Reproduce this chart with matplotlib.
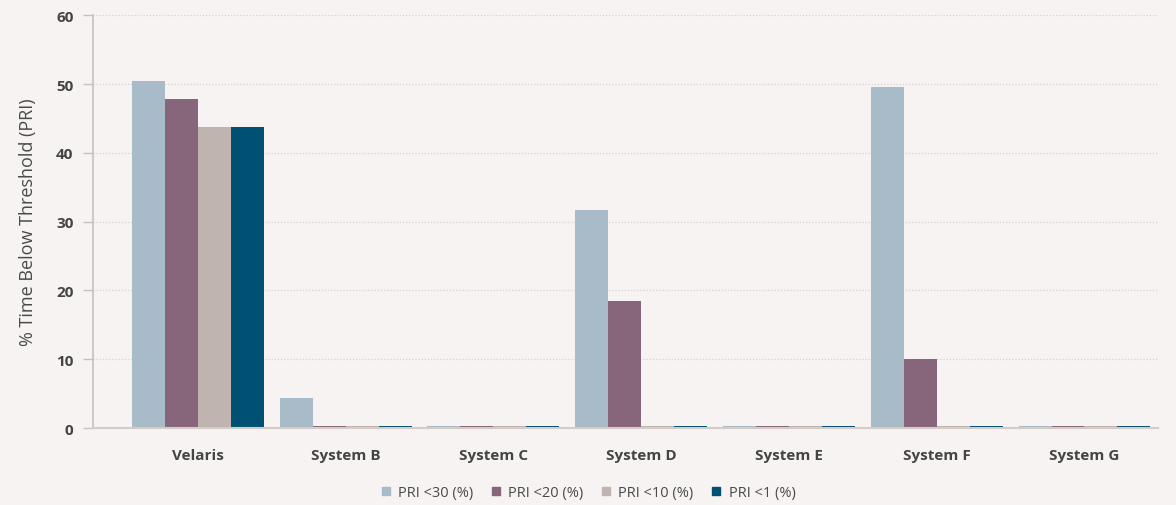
import numpy as np
import matplotlib.pyplot as plt
from matplotlib.lines import Line2D

plt.rcParams["font.family"] = ["Open Sans", "DejaVu Sans"]

BG = "#f7f3f2"
INK = "#444444"

categories = ["Velaris", "System B", "System C", "System D", "System E", "System F", "System G"]
series_names = ["PRI <30 (%)", "PRI <20 (%)", "PRI <10 (%)", "PRI <1 (%)"]
pri30 = [50.5, 4.4, 0.0, 31.7, 0.0, 49.6, 0.0]
pri20 = [47.8, 0.0, 0.0, 18.5, 0.0, 10.1, 0.0]
pri10 = [43.7, 0.0, 0.0, 0.0, 0.0, 0.0, 0.0]
pri1 = [43.7, 0.0, 0.0, 0.0, 0.0, 0.0, 0.0]
colors = ["#a7bbc8", "#87657b", "#bfb4af", "#005073"]

fig = plt.figure(figsize=(11.76, 5.06), dpi=100)
fig.patch.set_facecolor(BG)
ax = fig.add_axes([0.079, 0.152, 0.906, 0.816])
ax.set_facecolor(BG)

x = np.arange(len(categories))
w = 0.223
for i, (vals, c) in enumerate(zip([pri30, pri20, pri10, pri1], colors)):
    # zero values are still drawn as a thin sliver, like the original
    shown = np.maximum(np.array(vals), 0.35)
    ax.bar(x + (i - 1.5) * w, shown, w, color=c, label=series_names[i], zorder=3)

ax.set_ylim(0, 60)
ax.set_xlim(-0.71, 6.5)
ax.set_yticks(range(0, 61, 10))
ax.yaxis.grid(True, linestyle=(0, (1, 1.5)), color="#d8d2d0", lw=0.9, zorder=0)
ax.set_xticks(x)
ax.set_xticklabels(categories, fontsize=11, fontweight="bold", color=INK)
ax.tick_params(axis="y", labelsize=11, labelcolor=INK, length=7, width=1, color="#c9c0bb", pad=7)
for lab in ax.get_yticklabels():
    lab.set_fontweight("bold")
ax.tick_params(axis="x", length=0, pad=14)
for s in ["top", "right"]:
    ax.spines[s].set_visible(False)
ax.spines["left"].set_color("#c9c0bb")
ax.spines["left"].set_linewidth(1.2)
ax.spines["bottom"].set_color("#d6ccc7")
ax.spines["bottom"].set_linewidth(1.5)
ax.spines["bottom"].set_zorder(4)
ax.set_ylabel("% Time Below Threshold (PRI)", fontsize=13, color="#4a4a4a", labelpad=14)

handles = [Line2D([], [], marker="s", ls="", color=c, markersize=5.5) for c in colors]
fig.legend(handles, series_names, loc="center", bbox_to_anchor=(0.5, 0.025), ncol=4,
           frameon=False, fontsize=10.5, handlelength=0.7, handletextpad=0.5,
           columnspacing=1.2, labelcolor="#4a4a4a")

fig.savefig("out.png", facecolor=BG)
